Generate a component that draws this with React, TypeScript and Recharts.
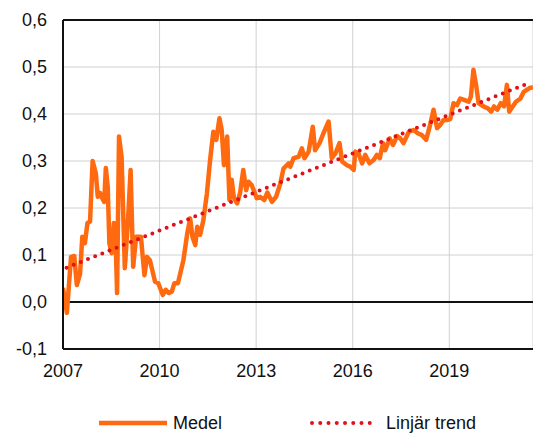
import { LineChart, Line, XAxis, YAxis, CartesianGrid, ReferenceLine } from "recharts";

// decimal years of each reading and the "Medel" values
const years = [
  2007.0, 2007.12, 2007.25, 2007.35, 2007.43, 2007.53, 2007.6, 2007.68, 2007.76, 2007.84,
  2007.92, 2008.02, 2008.08, 2008.15, 2008.22, 2008.28, 2008.33, 2008.39, 2008.44, 2008.51,
  2008.58, 2008.64, 2008.68, 2008.74, 2008.82, 2008.92, 2009.02, 2009.1, 2009.18, 2009.27,
  2009.37, 2009.42, 2009.53, 2009.61, 2009.7, 2009.86, 2009.96, 2010.1, 2010.19, 2010.28,
  2010.38, 2010.46, 2010.57, 2010.74, 2010.86, 2010.95, 2011.02, 2011.11, 2011.17, 2011.26,
  2011.36, 2011.47, 2011.57, 2011.67, 2011.76, 2011.86, 2011.93, 2012.0, 2012.1, 2012.17,
  2012.24, 2012.31, 2012.41, 2012.5, 2012.6, 2012.69, 2012.76, 2012.86, 2013.02, 2013.12,
  2013.25, 2013.35, 2013.49, 2013.62, 2013.75, 2013.85, 2014.01, 2014.06, 2014.16, 2014.32,
  2014.42, 2014.5, 2014.63, 2014.76, 2014.83, 2014.97, 2015.09, 2015.25, 2015.35, 2015.46,
  2015.59, 2015.67, 2015.82, 2015.92, 2016.03, 2016.08, 2016.18, 2016.29, 2016.39, 2016.52,
  2016.65, 2016.75, 2016.84, 2016.94, 2017.01, 2017.15, 2017.25, 2017.38, 2017.48, 2017.58,
  2017.74, 2017.89, 2018.02, 2018.15, 2018.28, 2018.39, 2018.51, 2018.62, 2018.72, 2018.82,
  2018.93, 2019.03, 2019.13, 2019.24, 2019.34, 2019.46, 2019.6, 2019.67, 2019.75, 2019.84,
  2019.91, 2020.07, 2020.2, 2020.3, 2020.39, 2020.49, 2020.6, 2020.7, 2020.79, 2020.86,
  2020.97, 2021.07, 2021.21, 2021.31, 2021.49, 2021.6,
];
const medel = [
  0.03, -0.023, 0.096, 0.098, 0.036, 0.06, 0.139, 0.125, 0.168, 0.171,
  0.3, 0.274, 0.224, 0.232, 0.221, 0.213, 0.285, 0.245, 0.125, 0.104,
  0.168, 0.118, 0.019, 0.352, 0.309, 0.072, 0.174, 0.281, 0.075, 0.139,
  0.139, 0.139, 0.057, 0.096, 0.089, 0.043, 0.04, 0.015, 0.026, 0.019,
  0.022, 0.04, 0.04, 0.089, 0.146, 0.178, 0.139, 0.121, 0.16, 0.143,
  0.174, 0.231, 0.302, 0.362, 0.345, 0.391, 0.366, 0.291, 0.352, 0.217,
  0.26, 0.221, 0.21, 0.232, 0.281, 0.238, 0.256, 0.249, 0.221, 0.224,
  0.217, 0.233, 0.213, 0.224, 0.252, 0.284, 0.295, 0.288, 0.306, 0.309,
  0.327, 0.306, 0.32, 0.373, 0.323, 0.338, 0.359, 0.384, 0.306, 0.316,
  0.338, 0.299, 0.291, 0.288, 0.281, 0.32, 0.316, 0.295, 0.313, 0.295,
  0.302, 0.313, 0.306, 0.338, 0.323, 0.348, 0.334, 0.353, 0.348, 0.338,
  0.362, 0.366, 0.359, 0.355, 0.345, 0.373, 0.409, 0.37, 0.377, 0.387,
  0.387, 0.389, 0.423, 0.419, 0.433, 0.43, 0.426, 0.437, 0.494, 0.458,
  0.423, 0.416, 0.412, 0.405, 0.416, 0.409, 0.423, 0.416, 0.462, 0.405,
  0.416, 0.426, 0.433, 0.447, 0.455, 0.457,
];

// linear trend, start and end
const trendYears = [2007.11, 2021.44];
const trendValues = [0.073, 0.465];

const xTicks = [2007, 2010, 2013, 2016, 2019];
const yTicks = [-0.1, 0, 0.1, 0.2, 0.3, 0.4, 0.5, 0.6];

const ORANGE = "#ff6a10";
const RED = "#e3101a";
const INK = "#111";
const FONT = "'Liberation Sans', Arial, sans-serif";

const data = years.map((t, i) => ({ t, medel: medel[i] }));
const trend = trendYears.map((t, i) => ({ t, trend: trendValues[i] }));

const fmt = (v: number) => v.toFixed(1).replace(".", ",");

export default function App() {
  return (
    <div style={{ position: "absolute", left: 0, top: 0, width: 533, height: 433, background: "#fff", fontFamily: FONT }}>
      <LineChart width={533} height={433} data={data} margin={{ top: 20, right: 0, left: 0, bottom: 54 }}>
        <CartesianGrid stroke="#d0d0d0" strokeWidth={1} />
        <XAxis
          dataKey="t"
          type="number"
          domain={[2007, 2021.6]}
          ticks={xTicks}
          allowDataOverflow
          height={30}
          tickSize={0}
          tickMargin={15}
          axisLine={{ stroke: INK, strokeWidth: 2 }}
          tick={{ fill: INK, fontSize: 18, fontFamily: FONT }}
        />
        <YAxis
          type="number"
          domain={[-0.1, 0.6]}
          ticks={yTicks}
          width={63}
          tickSize={0}
          tickMargin={16}
          tickFormatter={fmt}
          axisLine={{ stroke: INK, strokeWidth: 2 }}
          tick={{ fill: INK, fontSize: 18, fontFamily: FONT }}
        />
        <ReferenceLine y={0} stroke={INK} strokeWidth={2} />
        <ReferenceLine y={0.6} stroke={INK} strokeWidth={2} />
        <Line
          dataKey="medel"
          stroke={ORANGE}
          strokeWidth={4.5}
          strokeLinejoin="round"
          dot={false}
          isAnimationActive={false}
        />
        <Line
          data={trend}
          dataKey="trend"
          stroke={RED}
          strokeWidth={4}
          strokeDasharray="0 7.7"
          strokeLinecap="round"
          dot={false}
          isAnimationActive={false}
        />
      </LineChart>
      <svg width={533} height={30} style={{ position: "absolute", left: 0, top: 403 }}>
        <line x1={99} y1={20} x2={167} y2={20} stroke={ORANGE} strokeWidth={4.5} />
        <text x={173} y={20} dominantBaseline="central" fontSize={18} fill={INK} fontFamily={FONT}>
          Medel
        </text>
        <line x1={312} y1={20} x2={378} y2={20} stroke={RED} strokeWidth={4} strokeDasharray="0 8.25" strokeLinecap="round" />
        <text x={386} y={20} dominantBaseline="central" fontSize={18} fill={INK} fontFamily={FONT}>
          Linjär trend
        </text>
      </svg>
    </div>
  );
}
